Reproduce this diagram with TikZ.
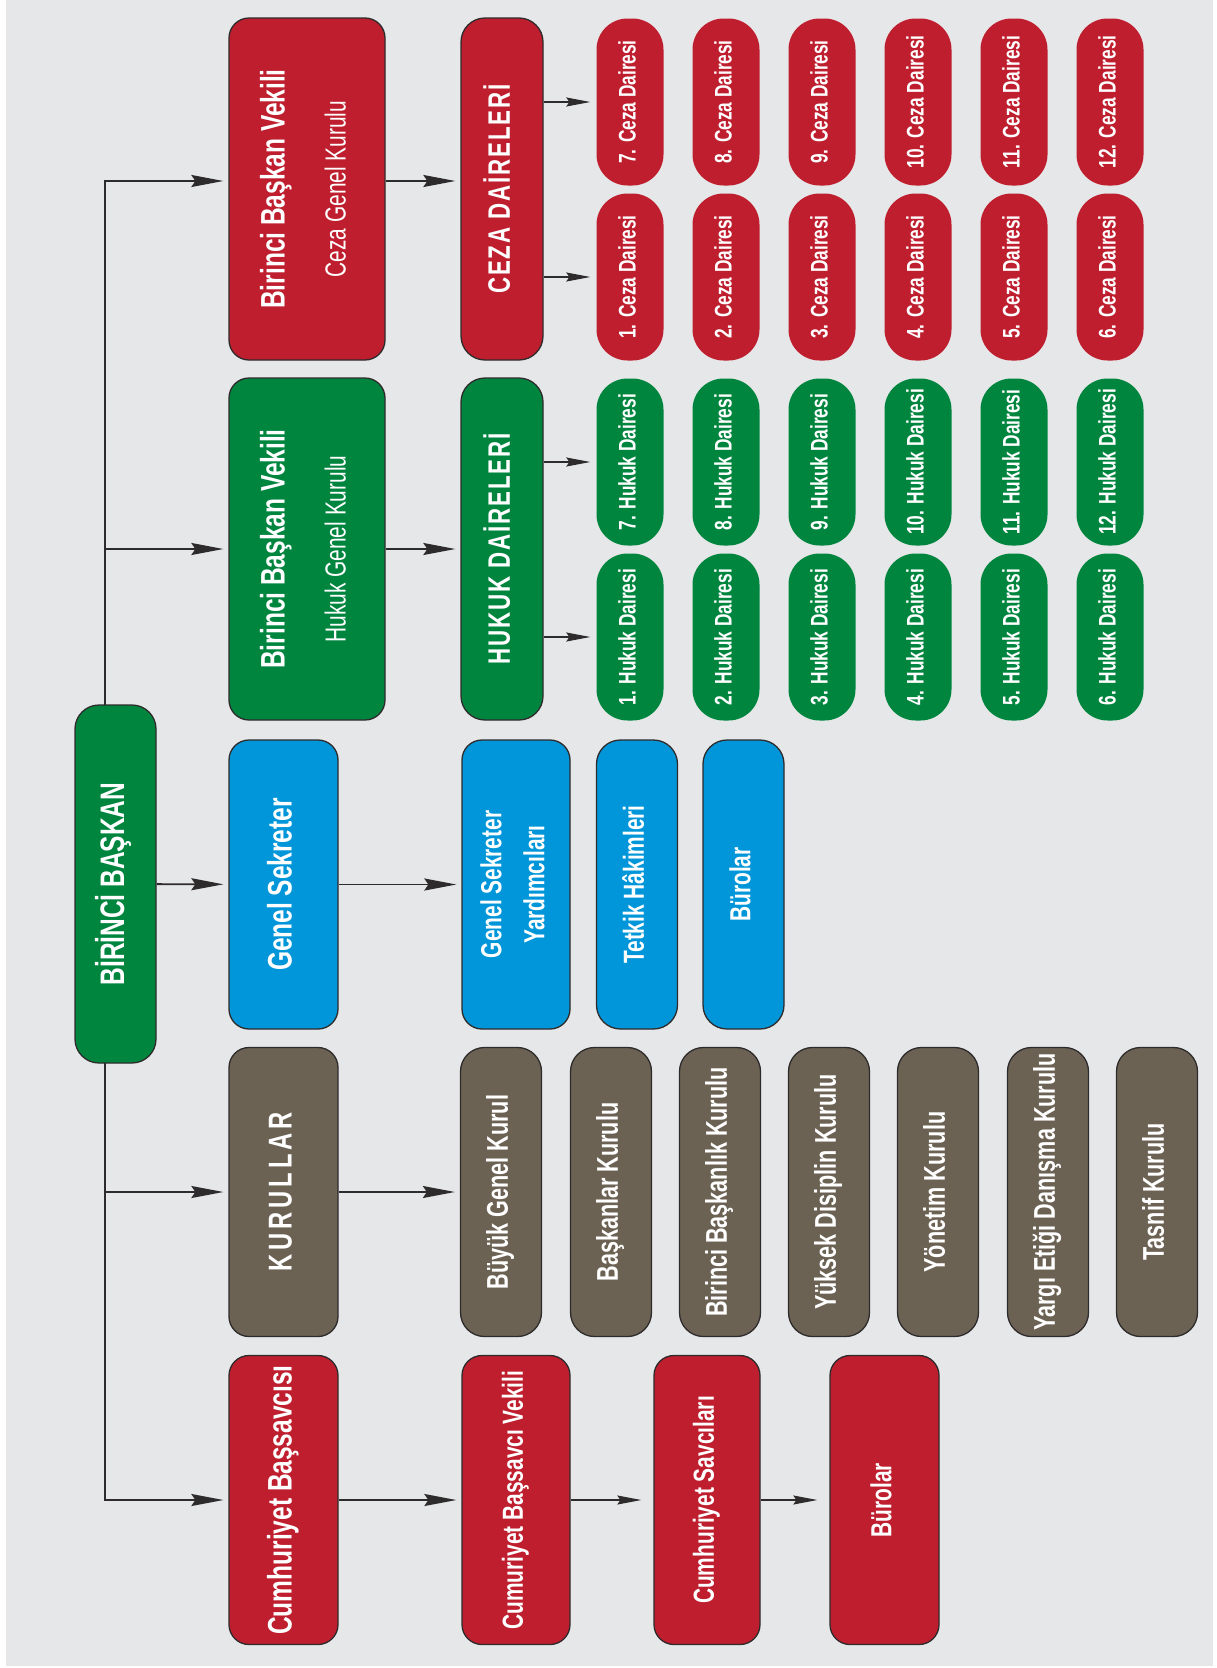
\documentclass[tikz,border=0pt]{standalone}
\usepackage{fontspec}
\setmainfont{Liberation Sans}
\newfontfamily\cond[FakeStretch=0.72]{Liberation Sans}
\usepackage{graphicx}
\usepackage{tikz}
\usetikzlibrary{arrows.meta}

\definecolor{ydred}{HTML}{BE1E2D}
\definecolor{ydgreen}{HTML}{00853F}
\definecolor{ydblue}{HTML}{0096D9}
\definecolor{ydbrown}{HTML}{6C6254}
\definecolor{ydbg}{HTML}{E6E7E8}
\definecolor{ydline}{HTML}{2E2B2C}

\newcommand{\rottext}[1]{\rotatebox{90}{\begin{tabular}{@{}c@{}}#1\end{tabular}}}
\newcommand{\titlefont}{\cond\bfseries\fontsize{34}{40}\selectfont}
\newcommand{\subfont}{\cond\mdseries\fontsize{29}{34}\selectfont}
\newcommand{\unitfont}{\cond\bfseries\fontsize{29}{34}\selectfont}
\newcommand{\dairefont}{\cond\bfseries\fontsize{24}{28}\selectfont}

\tikzset{
	box/.style={draw=ydline, line width=1.3pt, rounded corners=20pt, inner sep=0pt, text=white},
	vekil/.style={box, minimum width=156pt, minimum height=342pt, font=\titlefont},
	daire/.style={box, rounded corners=24pt, minimum width=82pt, minimum height=342pt, font=\cond\bfseries\fontsize{31}{36}\selectfont},
	unit/.style={box, minimum width=109pt, minimum height=289pt, font=\titlefont},
	subunit/.style={box, minimum width=108pt, minimum height=289pt, font=\unitfont},
	narrow/.style={box, rounded corners=24pt, minimum width=81pt, minimum height=289pt, font=\unitfont},
	small/.style={rounded corners=31pt, inner sep=0pt, text=white, minimum width=67pt, minimum height=167pt, font=\dairefont},
	mainarrow/.style={draw=ydline, line width=1.8pt, -{Stealth[length=32pt,width=12pt,inset=4pt]}, shorten >=5pt},
	subarrow/.style={draw=ydline, line width=1.2pt, -{Stealth[length=24pt,width=9pt,inset=3pt]}, shorten >=6pt}
}

\begin{document}
\begin{tikzpicture}[x=1pt,y=-1pt]
	\useasboundingbox (0,0) rectangle (1216,1668);
	\fill[ydbg] (6,0) rectangle (1213,1666);

	\node[box, fill=ydgreen, rounded corners=24pt, minimum width=81pt, minimum height=358pt, font=\titlefont] (BB) at (115.5,884) {\rottext{BİRİNCİ BAŞKAN}};

	\node[vekil, fill=ydred] (CV) at (307,189) {\rottext{Birinci Başkan Vekili\\[21pt]\subfont Ceza Genel Kurulu}};
	\node[vekil, fill=ydgreen] (HV) at (307,549) {\rottext{Birinci Başkan Vekili\\[21pt]\subfont Hukuk Genel Kurulu}};
	\node[unit, fill=ydblue] (GS) at (283.5,884.5) {\rottext{Genel Sekreter}};
	\node[unit, fill=ydbrown, font=\cond\bfseries\fontsize{33}{40}\selectfont] (KR) at (283.5,1192) {\rottext{\addfontfeature{LetterSpace=12}KURULLAR}};
	\node[unit, fill=ydred] (CB) at (283.5,1500) {\rottext{Cumhuriyet Başsavcısı}};

	\node[daire, fill=ydred] (CD) at (502,189) {\rottext{\addfontfeature{LetterSpace=6}CEZA DAİRELERİ}};
	\node[daire, fill=ydgreen] (HD) at (502,549) {\rottext{\addfontfeature{LetterSpace=6}HUKUK DAİRELERİ}};

	\node[subunit, fill=ydblue] (GSY) at (516,884.5) {\rottext{Genel Sekreter\\[9pt]Yardımcıları}};
	\node[narrow, fill=ydblue] (TH) at (637,884.5) {\rottext{Tetkik Hâkimleri}};
	\node[narrow, fill=ydblue] (BR1) at (743.5,884.5) {\rottext{Bürolar}};

	\node[narrow, fill=ydbrown, font=\cond\bfseries\fontsize{30}{34}\selectfont] (K1) at (501,1192) {\rottext{Büyük Genel Kurul}};
	\node[narrow, fill=ydbrown, font=\cond\bfseries\fontsize{30}{34}\selectfont] (K2) at (611,1192) {\rottext{Başkanlar Kurulu}};
	\node[narrow, fill=ydbrown, font=\cond\bfseries\fontsize{30}{34}\selectfont] (K3) at (720,1192) {\rottext{Birinci Başkanlık Kurulu}};
	\node[narrow, fill=ydbrown, font=\cond\bfseries\fontsize{30}{34}\selectfont] (K4) at (829,1192) {\rottext{Yüksek Disiplin Kurulu}};
	\node[narrow, fill=ydbrown, font=\cond\bfseries\fontsize{30}{34}\selectfont] (K5) at (938,1192) {\rottext{Yönetim Kurulu}};
	\node[narrow, fill=ydbrown, font=\cond\bfseries\fontsize{30}{34}\selectfont] (K6) at (1048,1192) {\rottext{Yargı Etiği Danışma Kurulu}};
	\node[narrow, fill=ydbrown, font=\cond\bfseries\fontsize{30}{34}\selectfont] (K7) at (1157,1192) {\rottext{Tasnif Kurulu}};

	\node[subunit, fill=ydred] (CBV) at (516,1500) {\rottext{Cumuriyet Başsavcı Vekili}};
	\node[subunit, fill=ydred, minimum width=106pt] (CS) at (707,1500) {\rottext{Cumhuriyet Savcıları}};
	\node[subunit, fill=ydred, minimum width=109pt] (BR2) at (884.5,1500) {\rottext{Bürolar}};

	\node[small, fill=ydred] (C7) at (630,102) {\rottext{7. Ceza Dairesi}};
	\node[small, fill=ydred] (C8) at (726,102) {\rottext{8. Ceza Dairesi}};
	\node[small, fill=ydred] (C9) at (822,102) {\rottext{9. Ceza Dairesi}};
	\node[small, fill=ydred] (C10) at (918,102) {\rottext{10. Ceza Dairesi}};
	\node[small, fill=ydred] (C11) at (1014,102) {\rottext{11. Ceza Dairesi}};
	\node[small, fill=ydred] (C12) at (1110,102) {\rottext{12. Ceza Dairesi}};
	\node[small, fill=ydred] (C1) at (630,277) {\rottext{1. Ceza Dairesi}};
	\node[small, fill=ydred] (C2) at (726,277) {\rottext{2. Ceza Dairesi}};
	\node[small, fill=ydred] (C3) at (822,277) {\rottext{3. Ceza Dairesi}};
	\node[small, fill=ydred] (C4) at (918,277) {\rottext{4. Ceza Dairesi}};
	\node[small, fill=ydred] (C5) at (1014,277) {\rottext{5. Ceza Dairesi}};
	\node[small, fill=ydred] (C6) at (1110,277) {\rottext{6. Ceza Dairesi}};

	\node[small, fill=ydgreen] (H7) at (630,462) {\rottext{7. Hukuk Dairesi}};
	\node[small, fill=ydgreen] (H8) at (726,462) {\rottext{8. Hukuk Dairesi}};
	\node[small, fill=ydgreen] (H9) at (822,462) {\rottext{9. Hukuk Dairesi}};
	\node[small, fill=ydgreen] (H10) at (918,462) {\rottext{10. Hukuk Dairesi}};
	\node[small, fill=ydgreen] (H11) at (1014,462) {\rottext{11. Hukuk Dairesi}};
	\node[small, fill=ydgreen] (H12) at (1110,462) {\rottext{12. Hukuk Dairesi}};
	\node[small, fill=ydgreen] (H1) at (630,637) {\rottext{1. Hukuk Dairesi}};
	\node[small, fill=ydgreen] (H2) at (726,637) {\rottext{2. Hukuk Dairesi}};
	\node[small, fill=ydgreen] (H3) at (822,637) {\rottext{3. Hukuk Dairesi}};
	\node[small, fill=ydgreen] (H4) at (918,637) {\rottext{4. Hukuk Dairesi}};
	\node[small, fill=ydgreen] (H5) at (1014,637) {\rottext{5. Hukuk Dairesi}};
	\node[small, fill=ydgreen] (H6) at (1110,637) {\rottext{6. Hukuk Dairesi}};

	\coordinate (TT) at (105,705);
	\coordinate (TB) at (105,1063);

	\draw[mainarrow] (TT) |- ([yshift=8pt]CV.west);
	\draw[mainarrow] ([yshift=8pt]CV.east) -- ([yshift=8pt]CD.west);
	\draw[mainarrow] (TT) |- (HV);
	\draw[mainarrow] (HV) -- (HD);
	\draw[mainarrow] (BB) -- (GS);
	\draw[mainarrow] (GS) -- (GSY);
	\draw[mainarrow] (TB) |- (KR);
	\draw[mainarrow] (KR) -- (K1);
	\draw[mainarrow] (TB) |- (CB);
	\draw[mainarrow] (CB) -- (CBV);
	\draw[subarrow, shorten >=12pt] (CBV) -- (CS);
	\draw[subarrow, shorten >=12pt] (CS) -- (BR2);

	\draw[subarrow] (CD.east |- C7) -- (C7);
	\draw[subarrow] (CD.east |- C1) -- (C1);
	\draw[subarrow] (HD.east |- H7) -- (H7);
	\draw[subarrow] (HD.east |- H1) -- (H1);
\end{tikzpicture}
\end{document}
